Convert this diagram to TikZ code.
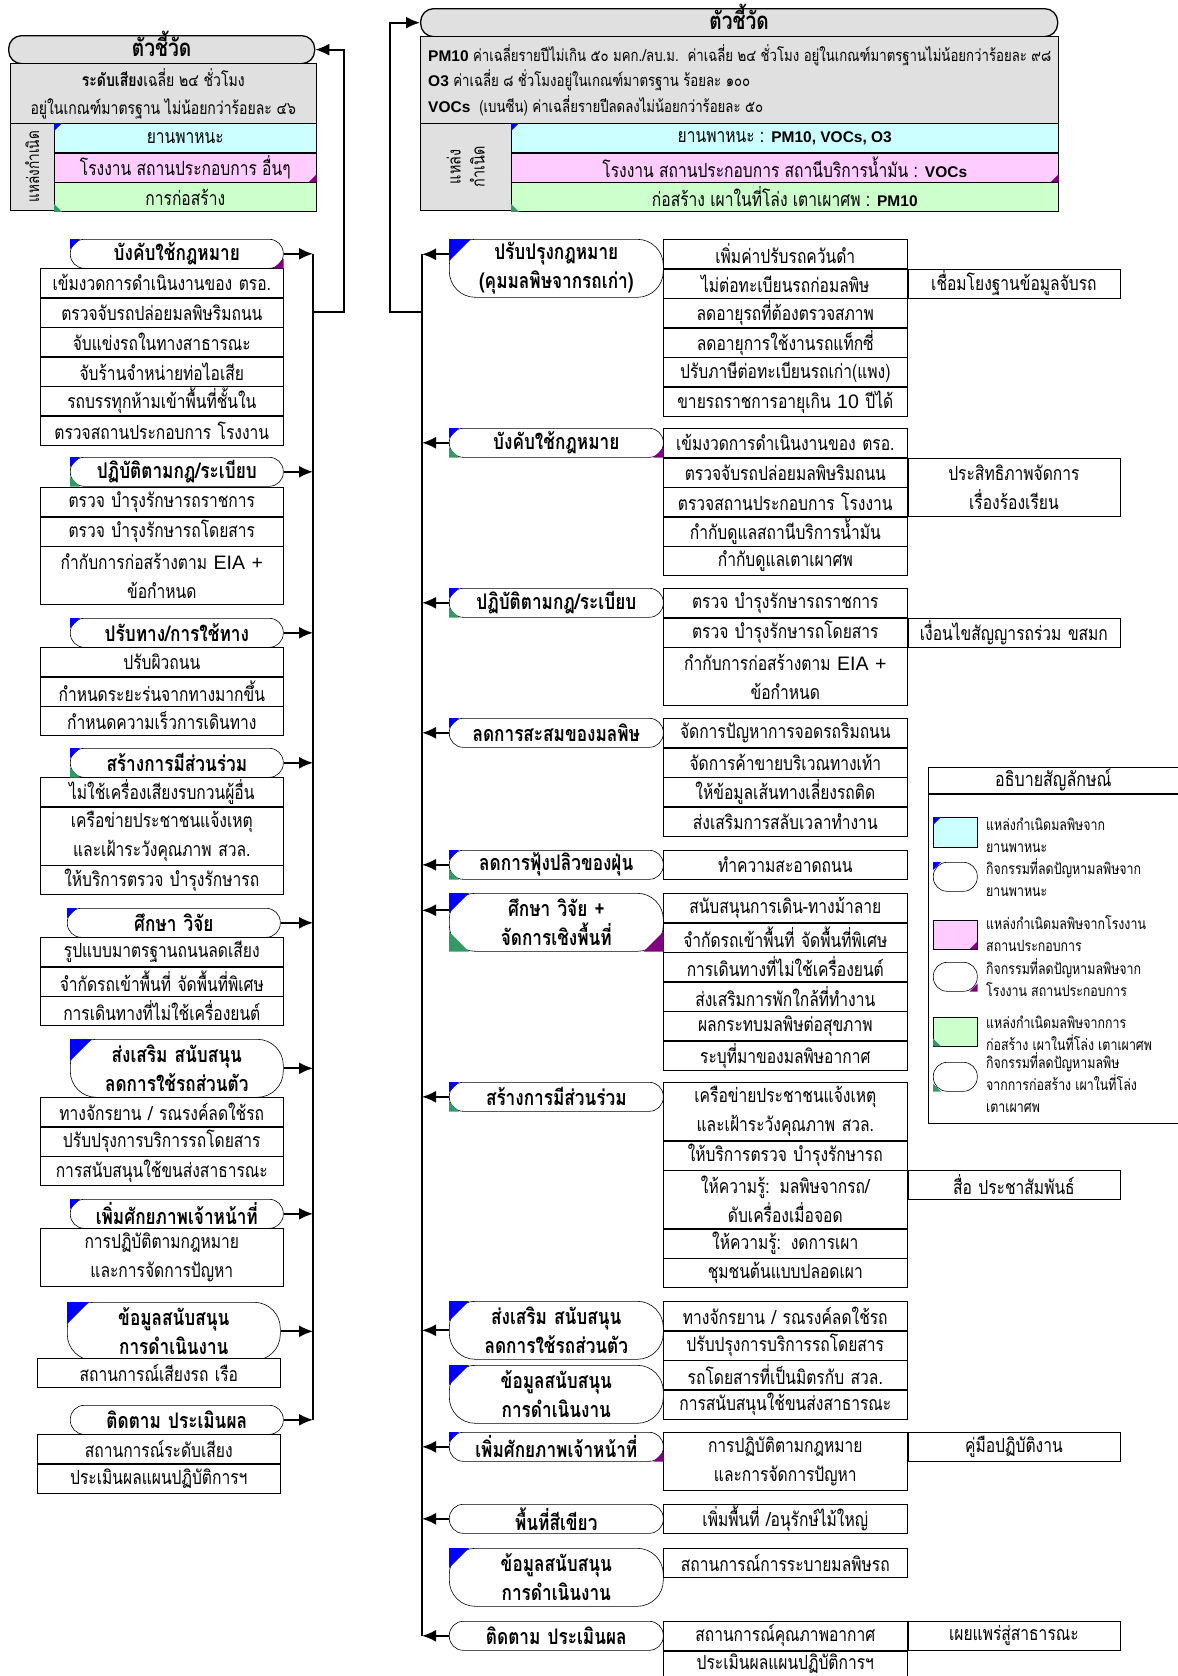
\documentclass[tikz,border=0pt]{standalone}
\usepackage{fontspec}
\setmainfont[Script=Thai,FakeStretch=0.8]{Loma}
\newfontfamily\latfont{Liberation Sans}
\usetikzlibrary{positioning,arrows.meta}

\definecolor{hdrgray}{HTML}{E0E0E0}
\definecolor{srccar}{HTML}{CCFFFF}
\definecolor{srcfac}{HTML}{FFCCFF}
\definecolor{srcbuild}{HTML}{CCFFCC}
\definecolor{mkcar}{HTML}{0000FF}
\definecolor{mkfac}{HTML}{800080}
\definecolor{mkbuild}{HTML}{339966}

% coloured corner marks
\newcommand\markTL[3][10]{\fill[#3] (#2.north west) -- ++(#1,0) -- ++(-#1,#1) -- cycle;}
\newcommand\markBL[3][10]{\fill[#3] (#2.south west) -- ++(#1,0) -- ++(-#1,-#1) -- cycle;}
\newcommand\markBR[3][10]{\fill[#3] (#2.south east) -- ++(-#1,0) -- ++(#1,-#1) -- cycle;}
\newcommand\latb[1]{{\latfont\bfseries\fontsize{15.5}{20}\selectfont #1}}

\begin{document}
\begin{tikzpicture}[x=1pt,y=-1pt,
  base/.style={inner sep=0pt,align=center,font=\fontsize{19.5}{29}\selectfont},
  hdr/.style={base,draw,line width=1.3pt,fill=hdrgray,rounded corners=13pt,
    minimum height=28pt,text height=18pt,text depth=4pt,
    font=\fontsize{24}{29}\selectfont\bfseries},
  gbox/.style={base,draw,line width=0.6pt,fill=hdrgray},
  band/.style={base,draw,line width=0.6pt,minimum height=29pt},
  itm/.style={base,draw,line width=0.6pt,fill=white,minimum height=29pt},
  tall/.style={minimum height=58pt},
  litem/.style={itm,text width=243pt},
  ritem/.style={itm,text width=244pt},
  rnote/.style={itm,text width=212pt},
  act/.style={base,draw,line width=0.6pt,fill=white,rounded corners=14pt,
    minimum height=29pt,font=\fontsize{21.5}{29}\selectfont\bfseries},
  act2/.style={rounded corners=26pt,minimum height=58pt},
  lact/.style={act,text width=213pt},
  ract/.style={act,text width=214pt},
  bus/.style={line width=1.8pt},
  arr/.style={bus,-{Latex[length=14pt,width=12pt]}},
  legtxt/.style={inner sep=0pt,align=left,font=\fontsize{15.5}{22}\selectfont},
  ]
\useasboundingbox (0,0) rectangle (1178,1676);

%% left: noise
\node[hdr,minimum width=306pt,anchor=north west] (lhead) at (8,35) {ตัวชี้วัด};
\node[gbox,minimum width=306pt,minimum height=60pt,anchor=north west,
  font=\fontsize{17.5}{28}\selectfont] (lind) at (10,63)
  {\textbf{ระดับเสียง}เฉลี่ย ๒๔ ชั่วโมง\\อยู่ในเกณฑ์มาตรฐาน ไม่น้อยกว่าร้อยละ ๔๖};
\node[gbox,minimum width=44pt,minimum height=87pt,anchor=north west] (lsrc) at (10,123) {};
\node[base,rotate=90,font=\fontsize{17}{20}\selectfont] (lsrcname) at (lsrc.center) {แหล่งกำเนิด};
\node[band,fill=srccar,minimum width=262pt,anchor=north west] (lcar) at (54,123) {ยานพาหนะ};
\node[band,fill=srcfac,minimum width=262pt,below=0pt of lcar] (lfac) {โรงงาน สถานประกอบการ อื่นๆ};
\node[band,fill=srcbuild,minimum width=262pt,below=0pt of lfac] (lbuild) {การก่อสร้าง};
\markTL[8]{lcar}{mkcar}
\markBR[8]{lfac}{mkfac}
\markBL[8]{lbuild}{mkbuild}

\node[lact,anchor=north west] (la1) at (70,239) {บังคับใช้กฎหมาย};
\node[litem,anchor=north west] (la1a) at (40,268) {เข้มงวดการดำเนินงานของ ตรอ.};
\node[litem,below=0pt of la1a] (la1b) {ตรวจจับรถปล่อยมลพิษริมถนน};
\node[litem,below=0pt of la1b] (la1c) {จับแข่งรถในทางสาธารณะ};
\node[litem,below=0pt of la1c] (la1d) {จับร้านจำหน่ายท่อไอเสีย};
\node[litem,below=0pt of la1d] (la1e) {รถบรรทุกห้ามเข้าพื้นที่ชั้นใน};
\node[litem,below=0pt of la1e] (la1f) {ตรวจสถานประกอบการ โรงงาน};
\markTL{la1}{mkcar}
\markBR{la1}{mkfac}

\node[lact,anchor=north west] (la2) at (70,457) {ปฏิบัติตามกฎ/ระเบียบ};
\node[litem,anchor=north west] (la2a) at (40,487) {ตรวจ บำรุงรักษารถราชการ};
\node[litem,below=0pt of la2a] (la2b) {ตรวจ บำรุงรักษารถโดยสาร};
\node[litem,tall,below=0pt of la2b] (la2c) {กำกับการก่อสร้างตาม {\latfont EIA +}\\ข้อกำหนด};
\markTL{la2}{mkcar}
\markBL{la2}{mkbuild}

\node[lact,anchor=north west] (la3) at (70,618) {ปรับทาง/การใช้ทาง};
\node[litem,anchor=north west] (la3a) at (40,647) {ปรับผิวถนน};
\node[litem,below=0pt of la3a] (la3b) {กำหนดระยะร่นจากทางมากขึ้น};
\node[litem,below=0pt of la3b] (la3c) {กำหนดความเร็วการเดินทาง};
\markTL{la3}{mkcar}

\node[lact,anchor=north west] (la4) at (70,748) {สร้างการมีส่วนร่วม};
\node[litem,anchor=north west] (la4a) at (40,777) {ไม่ใช้เครื่องเสียงรบกวนผู้อื่น};
\node[litem,tall,below=0pt of la4a] (la4b) {เครือข่ายประชาชนแจ้งเหตุ\\และเฝ้าระวังคุณภาพ สวล.};
\node[litem,below=0pt of la4b] (la4c) {ให้บริการตรวจ บำรุงรักษารถ};
\markTL{la4}{mkcar}
\markBL{la4}{mkbuild}

\node[lact,anchor=north west] (la5) at (67,908) {ศึกษา วิจัย};
\node[litem,anchor=north west] (la5a) at (40,937) {รูปแบบมาตรฐานถนนลดเสียง};
\node[litem,below=0pt of la5a] (la5b) {จำกัดรถเข้าพื้นที่ จัดพื้นที่พิเศษ};
\node[litem,below=0pt of la5b] (la5c) {การเดินทางที่ไม่ใช้เครื่องยนต์};
\markTL{la5}{mkcar}

\node[lact,act2,anchor=north west] (la6) at (70,1039) {ส่งเสริม สนับสนุน\\ลดการใช้รถส่วนตัว};
\node[litem,anchor=north west] (la6a) at (40,1097) {ทางจักรยาน / รณรงค์ลดใช้รถ};
\node[litem,below=0pt of la6a] (la6b) {ปรับปรุงการบริการรถโดยสาร};
\node[litem,below=0pt of la6b] (la6c) {การสนับสนุนใช้ขนส่งสาธารณะ};
\markTL[22]{la6}{mkcar}

\node[lact,anchor=north west] (la7) at (70,1199) {เพิ่มศักยภาพเจ้าหน้าที่};
\node[litem,tall,anchor=north west] (la7a) at (40,1228) {การปฏิบัติตามกฎหมาย\\และการจัดการปัญหา};
\markTL{la7}{mkcar}

\node[lact,act2,anchor=north west] (la8) at (67,1302) {ข้อมูลสนับสนุน\\การดำเนินงาน};
\node[litem,anchor=north west] (la8a) at (37,1358) {สถานการณ์เสียงรถ เรือ};
\markTL[22]{la8}{mkcar}

\node[lact,anchor=north west] (la9) at (70,1405) {ติดตาม ประเมินผล};
\node[litem,anchor=north west] (la9a) at (37,1434) {สถานการณ์ระดับเสียง};
\node[litem,below=0pt of la9a] (la9b) {ประเมินผลแผนปฏิบัติการฯ};

% left bus
\coordinate (lbus) at (313,0);
\coordinate (ljoin) at (313,312);
\coordinate (lup) at (344,312);
\draw[bus] (la1.east -| lbus) -- (la9.east -| lbus);
\foreach \g in {la1,la2,la3,la4,la5,la6,la7,la8,la9}
  \draw[arr] (\g.east) -- (\g.east -| lbus);
\draw[arr] (ljoin) -- (lup) |- (lhead.east);

%% right: air
\node[hdr,minimum width=637pt,anchor=north west] (rhead) at (420,8) {ตัวชี้วัด};
\node[gbox,minimum width=638pt,minimum height=87pt,anchor=north west] (rind) at (420,36) {};
\node[base,anchor=west,font=\fontsize{16.5}{20}\selectfont] (rind1) at (428,55)
  {\latb{PM10} ค่าเฉลี่ยรายปีไม่เกิน ๕๐ มคก./ลบ.ม.\ \ ค่าเฉลี่ย ๒๔ ชั่วโมง อยู่ในเกณฑ์มาตรฐานไม่น้อยกว่าร้อยละ ๙๘};
\node[base,anchor=west,font=\fontsize{16.5}{20}\selectfont] (rind2) at (428,80)
  {\latb{O3} ค่าเฉลี่ย ๘ ชั่วโมงอยู่ในเกณฑ์มาตรฐาน ร้อยละ ๑๐๐};
\node[base,anchor=west,font=\fontsize{16.5}{20}\selectfont] (rind3) at (428,106)
  {\latb{VOCs}\ \ (เบนซีน) ค่าเฉลี่ยรายปีลดลงไม่น้อยกว่าร้อยละ ๕๐};
\node[gbox,minimum width=91pt,minimum height=87pt,anchor=north west] (rsrc) at (420,123) {};
\node[base,rotate=90,font=\fontsize{18}{24}\selectfont] (rsrcname) at (rsrc.center) {แหล่ง\\กำเนิด};
\node[band,fill=srccar,minimum width=547pt,anchor=north west] (rcar) at (511,123)
  {ยานพาหนะ : \latb{PM10, VOCs, O3}};
\node[band,fill=srcfac,minimum width=547pt,below=0pt of rcar] (rfac)
  {โรงงาน สถานประกอบการ สถานีบริการน้ำมัน : \latb{VOCs}};
\node[band,fill=srcbuild,minimum width=547pt,below=0pt of rfac] (rbuild)
  {ก่อสร้าง เผาในที่โล่ง เตาเผาศพ : \latb{PM10}};
\markTL[8]{rcar}{mkcar}
\markBR[8]{rfac}{mkfac}
\markBL[8]{rbuild}{mkbuild}

\node[ract,act2,anchor=north west] (ra1) at (449,239) {ปรับปรุงกฎหมาย\\(คุมมลพิษจากรถเก่า)};
\node[ritem,anchor=north west] (ra1a) at (663,239) {เพิ่มค่าปรับรถควันดำ};
\node[ritem,below=0pt of ra1a] (ra1b) {ไม่ต่อทะเบียนรถก่อมลพิษ};
\node[ritem,below=0pt of ra1b] (ra1c) {ลดอายุรถที่ต้องตรวจสภาพ};
\node[ritem,below=0pt of ra1c] (ra1d) {ลดอายุการใช้งานรถแท็กซี่};
\node[ritem,below=0pt of ra1d] (ra1e) {ปรับภาษีต่อทะเบียนรถเก่า(แพง)};
\node[ritem,below=0pt of ra1e] (ra1f) {ขายรถราชการอายุเกิน {\latfont 10} ปีได้};
\node[rnote,right=0pt of ra1b] (ra1n) {เชื่อมโยงฐานข้อมูลจับรถ};
\markTL[22]{ra1}{mkcar}

\node[ract,anchor=north west] (ra2) at (449,428) {บังคับใช้กฎหมาย};
\node[ritem,anchor=north west] (ra2a) at (663,428) {เข้มงวดการดำเนินงานของ ตรอ.};
\node[ritem,below=0pt of ra2a] (ra2b) {ตรวจจับรถปล่อยมลพิษริมถนน};
\node[ritem,below=0pt of ra2b] (ra2c) {ตรวจสถานประกอบการ โรงงาน};
\node[ritem,below=0pt of ra2c] (ra2d) {กำกับดูแลสถานีบริการน้ำมัน};
\node[ritem,below=0pt of ra2d] (ra2e) {กำกับดูแลเตาเผาศพ};
\node[rnote,tall,anchor=north west] (ra2n) at (ra2b.north east) {ประสิทธิภาพจัดการ\\เรื่องร้องเรียน};
\markTL{ra2}{mkcar}
\markBL{ra2}{mkbuild}
\markBR{ra2}{mkfac}

\node[ract,anchor=north west] (ra3) at (449,588) {ปฏิบัติตามกฎ/ระเบียบ};
\node[ritem,anchor=north west] (ra3a) at (663,588) {ตรวจ บำรุงรักษารถราชการ};
\node[ritem,below=0pt of ra3a] (ra3b) {ตรวจ บำรุงรักษารถโดยสาร};
\node[ritem,tall,below=0pt of ra3b] (ra3c) {กำกับการก่อสร้างตาม {\latfont EIA +}\\ข้อกำหนด};
\node[rnote,right=0pt of ra3b] (ra3n) {เงื่อนไขสัญญารถร่วม ขสมก};
\markTL{ra3}{mkcar}
\markBL{ra3}{mkbuild}

\node[ract,anchor=north west] (ra4) at (449,718) {ลดการสะสมของมลพิษ};
\node[ritem,anchor=north west] (ra4a) at (663,718) {จัดการปัญหาการจอดรถริมถนน};
\node[ritem,below=0pt of ra4a] (ra4b) {จัดการค้าขายบริเวณทางเท้า};
\node[ritem,below=0pt of ra4b] (ra4c) {ให้ข้อมูลเส้นทางเลี่ยงรถติด};
\node[ritem,below=0pt of ra4c] (ra4d) {ส่งเสริมการสลับเวลาทำงาน};
\markTL{ra4}{mkcar}

\node[ract,anchor=north west] (ra5) at (449,850) {ลดการฟุ้งปลิวของฝุ่น};
\node[ritem,anchor=north west] (ra5a) at (663,850) {ทำความสะอาดถนน};
\markTL{ra5}{mkcar}
\markBL{ra5}{mkbuild}

\node[ract,act2,anchor=north west] (ra6) at (449,893) {ศึกษา วิจัย +\\จัดการเชิงพื้นที่};
\node[ritem,anchor=north west] (ra6a) at (663,893) {สนับสนุนการเดิน-ทางม้าลาย};
\node[ritem,below=0pt of ra6a] (ra6b) {จำกัดรถเข้าพื้นที่ จัดพื้นที่พิเศษ};
\node[ritem,below=0pt of ra6b] (ra6c) {การเดินทางที่ไม่ใช้เครื่องยนต์};
\node[ritem,below=0pt of ra6c] (ra6d) {ส่งเสริมการพักใกล้ที่ทำงาน};
\node[ritem,below=0pt of ra6d] (ra6e) {ผลกระทบมลพิษต่อสุขภาพ};
\node[ritem,below=0pt of ra6e] (ra6f) {ระบุที่มาของมลพิษอากาศ};
\markTL[20]{ra6}{mkcar}
\markBL[20]{ra6}{mkbuild}
\markBR[20]{ra6}{mkfac}

\node[ract,anchor=north west] (ra7) at (449,1082) {สร้างการมีส่วนร่วม};
\node[ritem,tall,anchor=north west] (ra7a) at (663,1082) {เครือข่ายประชาชนแจ้งเหตุ\\และเฝ้าระวังคุณภาพ สวล.};
\node[ritem,below=0pt of ra7a] (ra7b) {ให้บริการตรวจ บำรุงรักษารถ};
\node[ritem,tall,below=0pt of ra7b] (ra7c) {ให้ความรู้: มลพิษจากรถ/\\ดับเครื่องเมื่อจอด};
\node[ritem,below=0pt of ra7c] (ra7d) {ให้ความรู้: งดการเผา};
\node[ritem,below=0pt of ra7d] (ra7e) {ชุมชนต้นแบบปลอดเผา};
\node[rnote,anchor=north west] (ra7n) at (ra7c.north east) {สื่อ ประชาสัมพันธ์};
\markTL{ra7}{mkcar}
\markBL{ra7}{mkbuild}

\node[ract,act2,anchor=north west] (ra8) at (449,1301) {ส่งเสริม สนับสนุน\\ลดการใช้รถส่วนตัว};
\node[ritem,anchor=north west] (ra8a) at (663,1301) {ทางจักรยาน / รณรงค์ลดใช้รถ};
\node[ritem,below=0pt of ra8a] (ra8b) {ปรับปรุงการบริการรถโดยสาร};
\node[ritem,below=0pt of ra8b] (ra8c) {รถโดยสารที่เป็นมิตรกับ สวล.};
\node[ritem,below=0pt of ra8c] (ra8d) {การสนับสนุนใช้ขนส่งสาธารณะ};
\markTL[20]{ra8}{mkcar}

\node[ract,act2,anchor=north west] (ra9) at (449,1365) {ข้อมูลสนับสนุน\\การดำเนินงาน};
\markTL[20]{ra9}{mkcar}

\node[ract,anchor=north west] (ra10) at (449,1432) {เพิ่มศักยภาพเจ้าหน้าที่};
\node[ritem,tall,anchor=north west] (ra10a) at (663,1432) {การปฏิบัติตามกฎหมาย\\และการจัดการปัญหา};
\node[rnote,anchor=north west] (ra10n) at (ra10a.north east) {คู่มือปฏิบัติงาน};
\markTL{ra10}{mkcar}
\markBR{ra10}{mkfac}

\node[ract,anchor=north west] (ra11) at (449,1504) {พื้นที่สีเขียว};
\node[ritem,anchor=north west] (ra11a) at (663,1504) {เพิ่มพื้นที่ /อนุรักษ์ไม้ใหญ่};

\node[ract,act2,anchor=north west] (ra12) at (449,1548) {ข้อมูลสนับสนุน\\การดำเนินงาน};
\node[ritem,anchor=north west] (ra12a) at (663,1548) {สถานการณ์การระบายมลพิษรถ};
\markTL[20]{ra12}{mkcar}

\node[ract,anchor=north west] (ra13) at (449,1621) {ติดตาม ประเมินผล};
\node[ritem,anchor=north west] (ra13a) at (663,1621) {สถานการณ์คุณภาพอากาศ};
\node[ritem,minimum height=25pt,below=0pt of ra13a] (ra13b) {ประเมินผลแผนปฏิบัติการฯ};
\node[rnote,right=0pt of ra13a] (ra13n) {เผยแพร่สู่สาธารณะ};

% right bus
\coordinate (rbus) at (422,0);
\coordinate (rjoin) at (422,312);
\coordinate (rup) at (390,312);
\coordinate (ra1p) at ([yshift=14pt]ra1.west);
\coordinate (ra6p) at ([yshift=12pt]ra6.west);
\draw[bus] (ra1p -| rbus) -- (ra13.west -| rbus);
\draw[arr] (ra1p) -- (ra1p -| rbus);
\draw[arr] (ra6p) -- (ra6p -| rbus);
\foreach \g in {ra2,ra3,ra4,ra5,ra7,ra8,ra10,ra11,ra13}
  \draw[arr] (\g.west) -- (\g.west -| rbus);
\draw[arr] (rjoin) -- (rup) |- (rhead.west);

%% legend
\node[base,draw,line width=0.6pt,minimum width=250pt,minimum height=26pt,anchor=north west,
  font=\fontsize{20}{24}\selectfont] (key) at (928,767) {อธิบายสัญลักษณ์};
\node[draw,line width=0.6pt,minimum width=250pt,minimum height=329pt,anchor=north west] (keybox) at (key.south west) {};
\node[draw,fill=srccar,minimum width=44pt,minimum height=30pt,anchor=north west] (kcar) at (933,817) {};
\node[act,minimum width=44pt,anchor=north west] (kcaract) at (933,862) {};
\node[draw,fill=srcfac,minimum width=44pt,minimum height=29pt,anchor=north west] (kfac) at (933,920) {};
\node[act,minimum width=44pt,anchor=north west] (kfacact) at (933,962) {};
\node[draw,fill=srcbuild,minimum width=44pt,minimum height=29pt,anchor=north west] (kbuild) at (933,1017) {};
\node[act,minimum width=44pt,anchor=north west] (kbuildact) at (933,1062) {};
\markTL[8]{kcar}{mkcar}
\markTL[8]{kcaract}{mkcar}
\markBR[8]{kfac}{mkfac}
\markBR[8]{kfacact}{mkfac}
\markBL[8]{kbuild}{mkbuild}
\markBL[8]{kbuildact}{mkbuild}
\node[legtxt,anchor=west] (kcart) at (986,835) {แหล่งกำเนิดมลพิษจาก\\ยานพาหนะ};
\node[legtxt,anchor=west] (kcaractt) at (986,878) {กิจกรรมที่ลดปัญหามลพิษจาก\\ยานพาหนะ};
\node[legtxt,anchor=west] (kfact) at (986,934) {แหล่งกำเนิดมลพิษจากโรงงาน\\สถานประกอบการ};
\node[legtxt,anchor=west] (kfacactt) at (986,978) {กิจกรรมที่ลดปัญหามลพิษจาก\\โรงงาน สถานประกอบการ};
\node[legtxt,anchor=west] (kbuildt) at (986,1033) {แหล่งกำเนิดมลพิษจากการ\\ก่อสร้าง เผาในที่โล่ง เตาเผาศพ};
\node[legtxt,anchor=west] (kbuildactt) at (986,1083) {กิจกรรมที่ลดปัญหามลพิษ\\จากการก่อสร้าง เผาในที่โล่ง\\เตาเผาศพ};
\end{tikzpicture}
\end{document}
